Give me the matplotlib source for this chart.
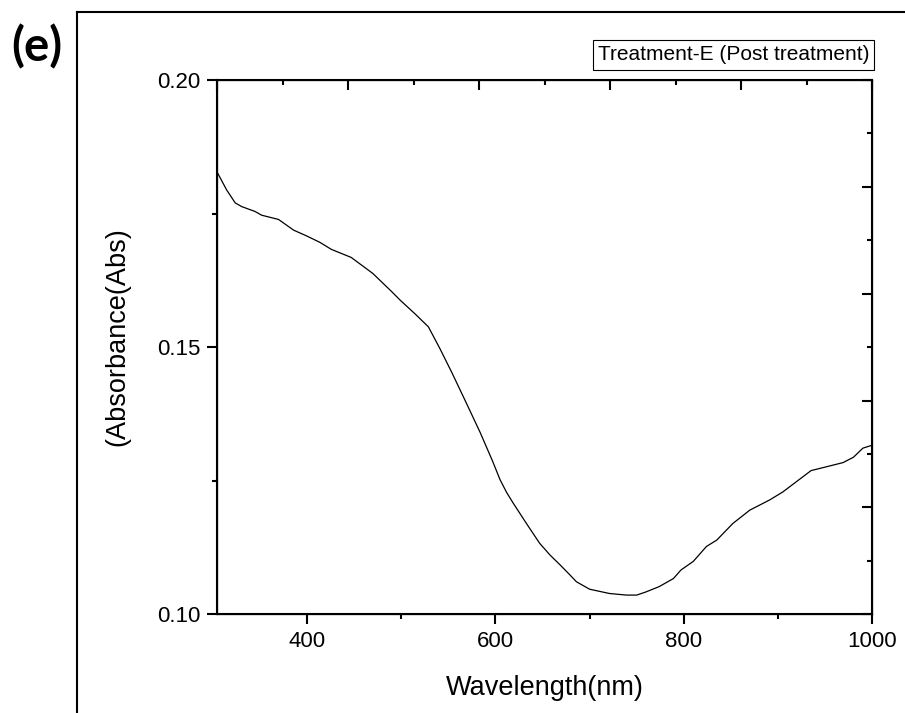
import numpy as np
import matplotlib
matplotlib.use("Agg")
import matplotlib.pyplot as plt
from matplotlib.lines import Line2D
from matplotlib.ticker import MultipleLocator, NullFormatter

# dane
wavelength = [305, 315, 324, 331, 345, 352, 370, 386, 400, 414, 426, 447, 470, 490, 499,
              515, 529, 541, 554, 568, 584, 597, 605, 612, 619, 633, 647, 658, 669, 679, 686,
              700, 721, 739, 750, 760, 774, 789, 797, 810, 824, 835, 852, 870, 891, 905,
              923, 935, 951, 969, 980, 990, 999]
absorbance = [0.1827, 0.1794, 0.1770, 0.1763, 0.1754, 0.1747, 0.1739, 0.1719, 0.1708, 0.1696,
              0.1683, 0.1668, 0.1638, 0.1604, 0.1588, 0.1562, 0.1538, 0.1498, 0.1452, 0.1400,
              0.1340, 0.1287, 0.1252, 0.1228, 0.1208, 0.1170, 0.1133, 0.1111, 0.1092, 0.1074,
              0.1061, 0.1047, 0.1039, 0.1036, 0.1036, 0.1042, 0.1052, 0.1067, 0.1083, 0.1099,
              0.1127, 0.1139, 0.1170, 0.1195, 0.1214, 0.1229, 0.1253, 0.1269, 0.1276, 0.1284,
              0.1294, 0.1311, 0.1316]

label = "Treatment-E (Post treatment)"
xticks = [400, 600, 800, 1000]
yticks = [0.10, 0.15, 0.20]

plt.rcParams["font.family"] = ["Liberation Sans", "DejaVu Sans"]

fig = plt.figure(figsize=(9.05, 7.13), dpi=100)
ax = fig.add_axes([0.2401, 0.1384, 0.7238, 0.7494])

ax.plot(wavelength, absorbance, color="black", linewidth=0.9)
ax.set_xlim(305, 1000)
ax.set_ylim(0.10, 0.20)
ax.set_xticks(xticks)
ax.set_yticks(yticks)
ax.xaxis.set_minor_locator(MultipleLocator(100))
ax.yaxis.set_minor_locator(MultipleLocator(0.025))
ax.set_yticklabels(["%.2f" % v for v in yticks])
ax.tick_params(which="major", direction="out", length=7, width=1.5, labelsize=16, pad=5)
ax.tick_params(which="minor", direction="out", length=3.5, width=1.5)
for s in ax.spines.values():
    s.set_linewidth(1.5)

ax.set_xlabel("Wavelength(nm)", fontsize=19.5)
ax.set_ylabel("(Absorbance(Abs)", fontsize=19.5)
ax.xaxis.set_label_coords(0.5, -0.113)
ax.yaxis.set_label_coords(-0.132, 0.52)

# osie gorna i prawa (tylko kreski, inna skala)
top = ax.twiny()
top.set_xlim(0, 1)
top.xaxis.set_major_locator(MultipleLocator(0.2))
top.xaxis.set_minor_locator(MultipleLocator(0.1))
top.xaxis.set_major_formatter(NullFormatter())
top.tick_params(axis="x", which="major", direction="in", length=7, width=1.5)
top.tick_params(axis="x", which="minor", direction="in", length=3.5, width=1.5)

right = ax.twinx()
right.set_ylim(0, 1)
right.yaxis.set_major_locator(MultipleLocator(0.2))
right.yaxis.set_minor_locator(MultipleLocator(0.1))
right.yaxis.set_major_formatter(NullFormatter())
right.tick_params(axis="y", which="major", direction="in", length=7, width=1.5)
right.tick_params(axis="y", which="minor", direction="in", length=3.5, width=1.5)

fig.text(0.9605, 0.9229, label, fontsize=15, ha="right", va="center",
         bbox=dict(boxstyle="square,pad=0.25", facecolor="white", edgecolor="black", linewidth=0.8))

fig.text(0.0409, 0.934, "(e)", fontsize=34, fontweight="bold", family=["Lato", "DejaVu Sans"],
         ha="center", va="center")

x0 = 77.3 / 905
y0 = 1 - 11.7 / 713
fig.add_artist(Line2D([x0, x0], [0, y0], color="black", linewidth=1.5))
fig.add_artist(Line2D([x0, 1], [y0, y0], color="black", linewidth=1.5))

fig.savefig("out.png", dpi=100)
